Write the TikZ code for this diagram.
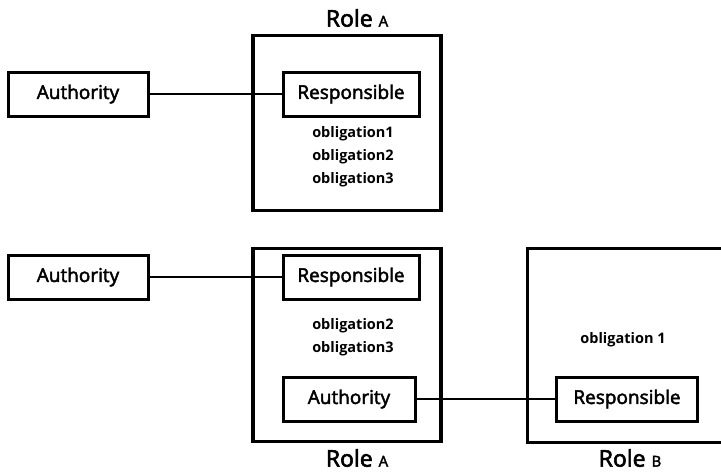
\documentclass[tikz,border=0pt]{standalone}
\usepackage{fontspec}
\setmainfont{Open Sans}
\newfontfamily\lblfont{Open Sans}[FakeBold=2.5]
\begin{document}
\begin{tikzpicture}[x=1pt,y=-1pt,
  rolebox/.style={draw,line width=3.6pt,inner sep=0pt},
  partybox/.style={draw,line width=3pt,inner sep=0pt,minimum height=44pt,font=\lblfont\fontsize{19}{22}\selectfont},
  oblig/.style={font=\fontsize{14.5}{23}\selectfont\bfseries,align=center,inner sep=0pt},
  rolelabel/.style={font=\lblfont\fontsize{23}{26}\selectfont,inner sep=0pt},
  link/.style={line width=1.6pt}]
\useasboundingbox (0,0) rectangle (721,472);
\clip (0,0) rectangle (721,472);

% upper arrangement: one role holding all obligations
\node[rolebox,minimum width=188pt,minimum height=175pt] (roleA1) at (347,123) {};
\node[rolelabel] (roleA1lbl) at (357,18) {Role {\fontsize{15}{16}\selectfont A}};
\node[partybox,minimum width=140pt] (auth1) at (78,94) {Authority};
\node[partybox,minimum width=136pt] (resp1) at (351,94) {Responsible};
\node[oblig] (obl1) at (353,157) {obligation1\\obligation2\\obligation3};
\draw[link] (auth1.east) -- (resp1.west);

% lower arrangement: obligation 1 delegated to a second role
\node[rolebox,minimum width=188pt,minimum height=193pt] (roleA2) at (347,345) {};
\node[rolelabel] (roleA2lbl) at (357,458) {Role {\fontsize{15}{16}\selectfont A}};
\node[partybox,minimum width=140pt] (auth2) at (78,277) {Authority};
\node[partybox,minimum width=136pt] (resp2) at (351,277) {Responsible};
\node[oblig] (obl2) at (353,337) {obligation2\\obligation3};
\node[partybox,minimum width=132pt] (auth3) at (349,399) {Authority};

\node[draw,line width=3pt,inner sep=0pt,minimum width=210pt,minimum height=194pt] (roleB) at (632,345) {};
\node[rolelabel] (roleBlbl) at (630,458) {Role {\fontsize{15}{16}\selectfont B}};
\node[oblig] (obl3) at (623,340) {obligation 1};
\node[partybox,minimum width=141pt] (resp3) at (627,399) {Responsible};

\draw[link] (auth2.east) -- (resp2.west);
\draw[link] (auth3.east) -- (resp3.west);
\end{tikzpicture}
\end{document}
